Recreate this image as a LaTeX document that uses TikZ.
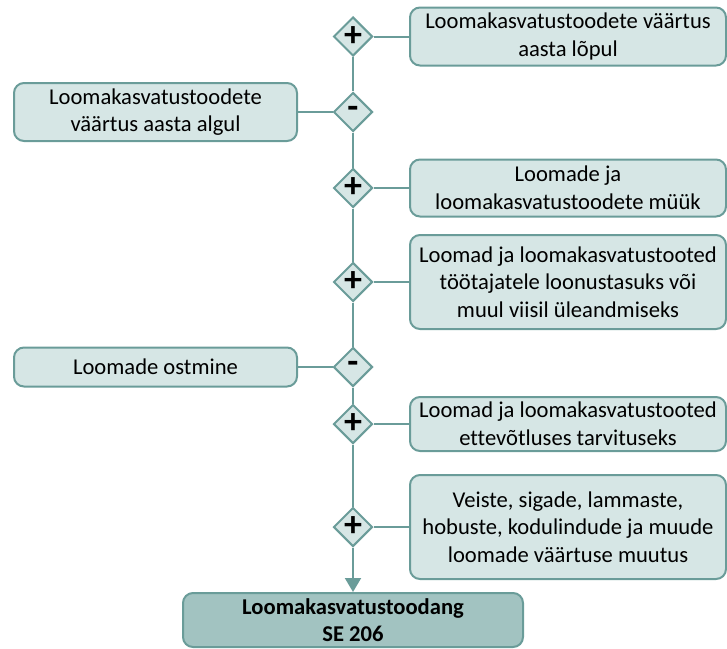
\documentclass[tikz,border=0pt]{standalone}
\usepackage{fontspec}
\setmainfont{Carlito}[Ligatures=NoCommon]
\usepackage{xcolor}
\definecolor{edge}{HTML}{6A9C99}
\definecolor{soft}{HTML}{D6E6E5}
\definecolor{deep}{HTML}{A2C3C1}
\usetikzlibrary{arrows.meta,shapes.geometric}
\tikzset{
  >={Triangle[length=7pt,width=8pt]},
  box/.style={draw=edge,fill=soft,rounded corners=5pt,line width=1pt,inner sep=1pt,minimum width=158pt,align=center,font=\fontsize{11.3}{13.8}\selectfont},
  lbox/.style={box,minimum width=141.5pt},
  sbox/.style={box,fill=deep,minimum width=170pt,font=\fontsize{11.3}{13.8}\selectfont\bfseries},
  sgn/.style={diamond,aspect=1,draw=edge,fill=soft,line width=1pt,inner sep=0pt,minimum width=19.5pt,minimum height=19.5pt,font=\fontsize{18}{18}\selectfont\bfseries},
  ln/.style={draw=edge,line width=1pt},
  arr/.style={ln,->},
}
\begin{document}
\begin{tikzpicture}[x=0.5pt,y=-0.5pt]
\useasboundingbox (0,0) rectangle (727,648);
% signs on the main line
\node[sgn] (s1) at (353,36.5) {+};
\node[sgn] (s2) at (353,112) {-};
\node[sgn] (s3) at (353,188) {+};
\node[sgn] (s4) at (353,282) {+};
\node[sgn] (s5) at (353,367) {-};
\node[sgn] (s6) at (353,424) {+};
\node[sgn] (s7) at (353,527) {+};
% items
\node[box,minimum height=29pt] (lopp) at (568,36.5) {Loomakasvatustoodete väärtus\\aasta lõpul};
\node[lbox,minimum height=29pt] (algus) at (155.5,112) {Loomakasvatustoodete\\väärtus aasta algul};
\node[box,minimum height=28.5pt] (myyk) at (568,188) {Loomade ja\\loomakasvatustoodete müük};
\node[box,minimum height=47pt] (tasu) at (568,282) {Loomad ja loomakasvatustooted\\töötajatele loonustasuks või\\muul viisil üleandmiseks};
\node[lbox,minimum height=19.5pt] (ost) at (155.5,367) {Loomade ostmine};
\node[box,minimum height=27pt] (tarv) at (568,424) {Loomad ja loomakasvatustooted\\ettevõtluses tarvituseks};
\node[box,minimum height=52pt] (muut) at (568,527) {Veiste, sigade, lammaste,\\hobuste, kodulindude ja muude\\loomade väärtuse muutus};
\node[sbox,minimum height=27pt] (tot) at (353,620) {Loomakasvatustoodang\\SE 206};
% connectors
\draw[ln] (s1) -- (s2) -- (s3) -- (s4) -- (s5) -- (s6) -- (s7);
\draw[arr] (s7) -- (tot);
\draw[ln] (s1) -- (lopp);
\draw[ln] (algus) -- (s2);
\draw[ln] (s3) -- (myyk);
\draw[ln] (s4) -- (tasu);
\draw[ln] (ost) -- (s5);
\draw[ln] (s6) -- (tarv);
\draw[ln] (s7) -- (muut);
\end{tikzpicture}
\end{document}
